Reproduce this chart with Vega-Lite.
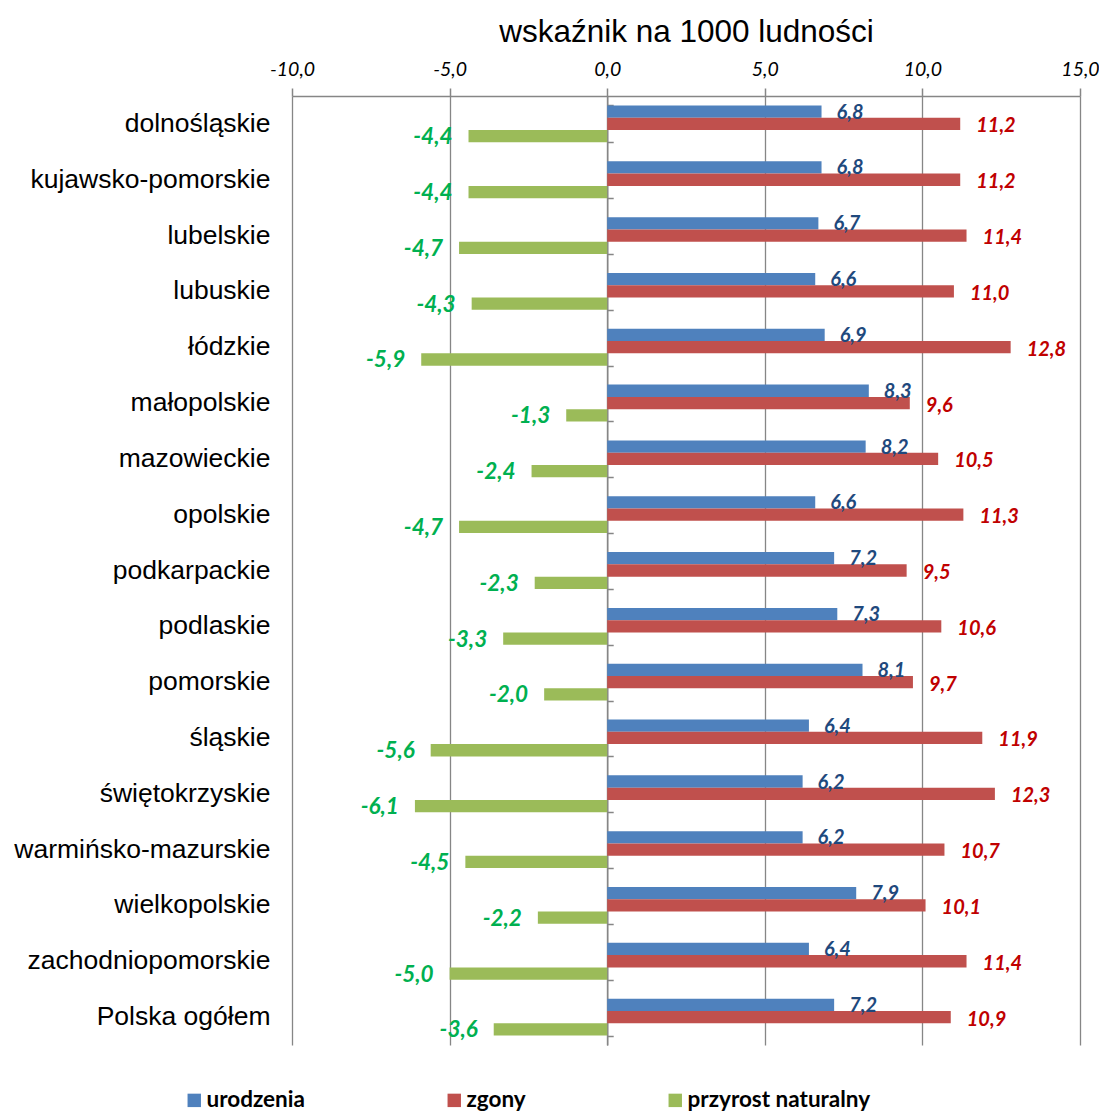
{
  "$schema": "https://vega.github.io/schema/vega-lite/v6.json",
  "width": 788,
  "height": 949,
  "autosize": {"type": "none"},
  "padding": {"left": 292, "top": 96, "right": 19, "bottom": 68},
  "background": "white",
  "config": {
    "locale": {"number": {"decimal": ",", "thousands": " ", "grouping": [3], "currency": ["", " zł"], "minus": "-"}},
    "view": {"stroke": null}
  },
  "data": {
    "values": [
      {"region": "dolnośląskie", "urodzenia": 6.8, "zgony": 11.2, "przyrost naturalny": -4.4},
      {"region": "kujawsko-pomorskie", "urodzenia": 6.8, "zgony": 11.2, "przyrost naturalny": -4.4},
      {"region": "lubelskie", "urodzenia": 6.7, "zgony": 11.4, "przyrost naturalny": -4.7},
      {"region": "lubuskie", "urodzenia": 6.6, "zgony": 11.0, "przyrost naturalny": -4.3},
      {"region": "łódzkie", "urodzenia": 6.9, "zgony": 12.8, "przyrost naturalny": -5.9},
      {"region": "małopolskie", "urodzenia": 8.3, "zgony": 9.6, "przyrost naturalny": -1.3},
      {"region": "mazowieckie", "urodzenia": 8.2, "zgony": 10.5, "przyrost naturalny": -2.4},
      {"region": "opolskie", "urodzenia": 6.6, "zgony": 11.3, "przyrost naturalny": -4.7},
      {"region": "podkarpackie", "urodzenia": 7.2, "zgony": 9.5, "przyrost naturalny": -2.3},
      {"region": "podlaskie", "urodzenia": 7.3, "zgony": 10.6, "przyrost naturalny": -3.3},
      {"region": "pomorskie", "urodzenia": 8.1, "zgony": 9.7, "przyrost naturalny": -2.0},
      {"region": "śląskie", "urodzenia": 6.4, "zgony": 11.9, "przyrost naturalny": -5.6},
      {"region": "świętokrzyskie", "urodzenia": 6.2, "zgony": 12.3, "przyrost naturalny": -6.1},
      {"region": "warmińsko-mazurskie", "urodzenia": 6.2, "zgony": 10.7, "przyrost naturalny": -4.5},
      {"region": "wielkopolskie", "urodzenia": 7.9, "zgony": 10.1, "przyrost naturalny": -2.2},
      {"region": "zachodniopomorskie", "urodzenia": 6.4, "zgony": 11.4, "przyrost naturalny": -5.0},
      {"region": "Polska ogółem", "urodzenia": 7.2, "zgony": 10.9, "przyrost naturalny": -3.6}
    ]
  },
  "transform": [{"fold": ["urodzenia", "zgony", "przyrost naturalny"], "as": ["seria", "wartosc"]}],
  "encoding": {
    "y": {"field": "region", "type": "nominal", "sort": null, "scale": {"paddingInner": 0.34, "paddingOuter": 0.17}},
    "yOffset": {"field": "seria", "type": "nominal", "sort": ["urodzenia", "zgony", "przyrost naturalny"], "scale": {"paddingInner": 0, "paddingOuter": 0}},
    "x": {"field": "wartosc", "type": "quantitative", "scale": {"domain": [-10, 15], "nice": false, "zero": false}}
  },
  "layer": [
    {
      "mark": {"type": "bar"},
      "encoding": {
        "y": {"field": "region", "type": "nominal", "sort": null, "scale": {"paddingInner": 0.34, "paddingOuter": 0.17},
          "axis": {"title": null, "domain": false, "ticks": false, "labelFont": "Liberation Sans", "labelFontSize": 26.5, "labelColor": "#000000", "labelPadding": 22, "labelLimit": 400}},
        "x": {"field": "wartosc", "type": "quantitative", "scale": {"domain": [-10, 15], "nice": false, "zero": false},
          "axis": {"orient": "top", "values": [-10, -5, 0, 5, 10, 15], "format": ".1f", "title": "wskaźnik na 1000 ludności",
            "titleFont": "Liberation Sans", "titleFontSize": 31.5, "titleFontWeight": "normal", "titleColor": "#000000", "titlePadding": 11,
            "labelFont": "Lato", "labelFontStyle": "italic", "labelFontSize": 19.5, "labelColor": "#000000", "labelPadding": 9, "labelFlush": false, "labelBound": false, "labelOverlap": false,
            "domain": true, "domainColor": "#868686", "domainWidth": 1.5, "ticks": true, "tickColor": "#868686", "tickSize": 8, "tickWidth": 1.5,
            "grid": true, "gridColor": "#868686", "gridWidth": 1.3}},
        "color": {"field": "seria", "type": "nominal", "sort": ["urodzenia", "zgony", "przyrost naturalny"],
          "scale": {"domain": ["urodzenia", "zgony", "przyrost naturalny"], "range": ["#4F81BD", "#C0504D", "#9BBB59"]},
          "legend": {"orient": "none", "legendX": -109, "legendY": 993, "direction": "horizontal", "columns": 3, "title": null,
            "symbolType": "square", "symbolSize": 180, "symbolStrokeWidth": 0, "labelFont": "Lato", "labelFontWeight": "bold", "labelFontSize": 22.5, "labelColor": "#000000", "labelLimit": 400, "columnPadding": 138, "labelOffset": 1}}
      }
    },
    {
      "transform": [{"filter": "datum.seria === 'urodzenia'"}],
      "mark": {"type": "text", "align": "left", "baseline": "middle", "dx": 15, "dy": 1, "font": "Lato", "fontWeight": "bold", "fontStyle": "italic", "fontSize": 20, "color": "#1F497D"},
      "encoding": {
        "y": {"field": "region", "type": "nominal", "sort": null, "scale": {"paddingInner": 0.34, "paddingOuter": 0.17},
          "axis": {"orient": "left", "offset": -315.2, "labels": false, "title": null, "domain": true, "domainColor": "#868686", "domainWidth": 1.5,
            "ticks": true, "tickColor": "#868686", "tickSize": -6, "tickWidth": 1.5, "tickBand": "extent", "grid": false}},
        "text": {"field": "wartosc", "type": "quantitative", "format": ".1f"}
      }
    },
    {
      "transform": [{"filter": "datum.seria === 'zgony'"}],
      "mark": {"type": "text", "align": "left", "baseline": "middle", "dx": 16, "dy": 2.5, "font": "Lato", "fontWeight": "bold", "fontStyle": "italic", "fontSize": 20, "color": "#C00000"},
      "encoding": {
        "y": {"field": "region", "type": "nominal", "sort": null, "scale": {"paddingInner": 0.34, "paddingOuter": 0.17}, "axis": null},
        "text": {"field": "wartosc", "type": "quantitative", "format": ".1f"}
      }
    },
    {
      "transform": [{"filter": "datum.seria === 'przyrost naturalny'"}],
      "mark": {"type": "text", "align": "right", "baseline": "middle", "dx": -16, "dy": 1, "font": "Lato", "fontWeight": "bold", "fontStyle": "italic", "fontSize": 22.5, "color": "#00B050"},
      "encoding": {
        "y": {"field": "region", "type": "nominal", "sort": null, "scale": {"paddingInner": 0.34, "paddingOuter": 0.17}, "axis": null},
        "text": {"field": "wartosc", "type": "quantitative", "format": ".1f"}
      }
    }
  ],
  "resolve": {"axis": {"y": "independent"}}
}
